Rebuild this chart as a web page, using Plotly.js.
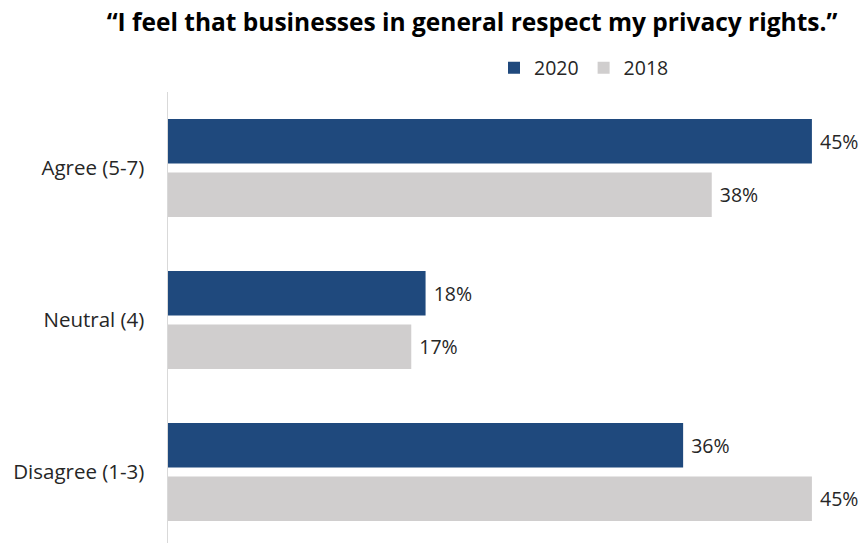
<!DOCTYPE html>
<html><head><meta charset="utf-8">
<script src="https://cdn.plot.ly/plotly-3.0.1.min.js"></script>
<style>html,body{margin:0;padding:0;background:#fff}</style>
</head><body>
<div id="chart" style="width:864px;height:543px"></div>
<script>
const categories = ['Agree (5-7)', 'Neutral (4)', 'Disagree (1-3)'];
const values2020 = [45, 18, 36];
const values2018 = [38, 17, 45];
const seriesNames = ['2020', '2018'];
const chartTitle = '“I feel that businesses in general respect my privacy rights.”';

const FONT = '"Open Sans", Lato, sans-serif';
function pct(arr){ return arr.map(v => ' ' + v + '%'); }

const traces = [
  {type:'bar', orientation:'h', name:seriesNames[0], y:categories, x:values2020,
   text:pct(values2020), textposition:'outside', cliponaxis:false,
   marker:{color:'#1F497D'},
   textfont:{family:FONT, size:19.5, color:'#262626'}, hoverinfo:'x+y'},
  {type:'bar', orientation:'h', name:seriesNames[1], y:categories, x:values2018,
   text:pct(values2018), textposition:'outside', cliponaxis:false,
   marker:{color:'#D0CECE'},
   textfont:{family:FONT, size:19.5, color:'#262626'}, hoverinfo:'x+y'}
];

const layout = {
  width:864, height:543,
  margin:{l:168, r:0, t:92, b:0, pad:0},
  paper_bgcolor:'#fff', plot_bgcolor:'#fff',
  font:{family:FONT, color:'#262626'},
  title:{text:'<b>'+chartTitle+'</b>', x:472/864, xref:'container', xanchor:'center',
         y:1-22/543, yref:'container', yanchor:'middle',
         font:{family:FONT, size:24.5, color:'#000'}},
  barmode:'group', bargap:0.296, bargroupgap:0.168,
  showlegend:true,
  legend:{orientation:'h', x:494/864, xref:'container', xanchor:'left', y:1-68/543, yref:'container', yanchor:'middle',
          font:{family:FONT, size:19.5, color:'#262626'}, itemwidth:30, traceorder:'normal'},
  xaxis:{range:[0, 48.64], showgrid:false, zeroline:false, showticklabels:false, showline:false, fixedrange:true},
  yaxis:{type:'category', categoryorder:'array', categoryarray:categories,
         range:[2.467, -0.5], autorange:false, showgrid:false, zeroline:false,
         showline:true, linecolor:'#D9D9D9', linewidth:1.5, ticks:'', ticklabelstandoff:18,
         tickfont:{family:FONT, size:20.5, color:'#262626'}}
};

Plotly.newPlot('chart', traces, layout, {displayModeBar:false, staticPlot:true});
</script>
</body></html>
